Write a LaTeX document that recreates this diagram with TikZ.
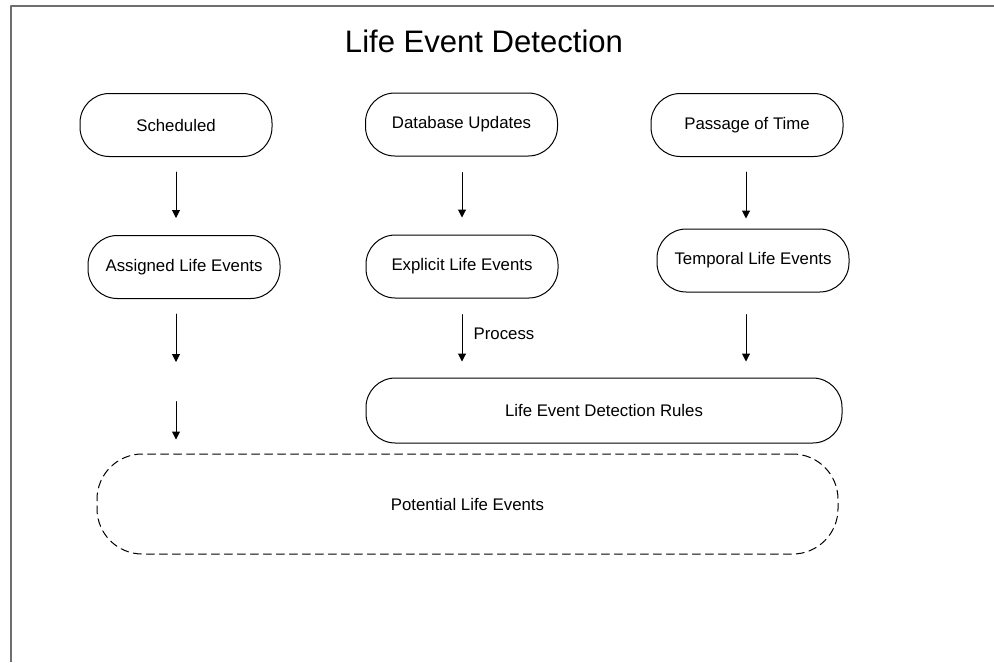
\documentclass[tikz,border=0pt]{standalone}
\usepackage{fontspec}
\setmainfont{Liberation Sans}
\usetikzlibrary{arrows.meta,calc}
\definecolor{framegray}{RGB}{110,110,110}
\begin{document}
\begin{tikzpicture}[x=0.75pt, y=-0.75pt, font=\fontsize{12.6}{15}\selectfont, line join=round, line cap=round,
  >={Triangle[length=6pt,width=6pt]},
  box/.style={draw, line width=0.75pt, rounded corners=22pt, minimum width=144pt, minimum height=47.25pt, inner sep=0pt},
  arr/.style={->, line width=0.75pt}]
\def\gap{11.25pt}
\useasboundingbox (0,0) rectangle (994,662);
\draw[framegray, line width=1.5pt, line cap=butt] (994,6) -- (11,6) -- (11,662);
\node[font=\fontsize{23.3}{28}\selectfont, anchor=base] (title) at (484,52) {Life Event Detection};
% sources
\node[box] (sched) at (176,125) {Scheduled};
\node[box] (dbupd) at (461.5,124.5) {Database Updates};
\node[box] (ptime) at (747,125) {Passage of Time};
% life events
\node[box] (assign) at (184,267) {Assigned Life Events};
\node[box] (explicit) at (462,266.5) {Explicit Life Events};
\node[box] (temporal) at (753,260.5) {Temporal Life Events};
\node[box, minimum width=357pt, minimum height=48.75pt] (rules) at (604,410.5) {Life Event Detection Rules};
\node[box, dashed, dash pattern=on 6pt off 3.75pt, rounded corners=34pt, minimum width=555.75pt, minimum height=75pt] (potential) at (467.5,504) {Potential Life Events};
% arrows
\draw[arr] ($(sched.south)+(0pt,-\gap)$) -- ($(sched.south |- assign.north)+(0pt,12.75pt)$);
\draw[arr] ($(sched.south |- assign.south)+(0pt,-\gap)$) -- ++(0,48);
\draw[arr] ($(sched.south |- potential.north)+(0pt,39pt)$) -- ($(sched.south |- potential.north)+(0pt,10.5pt)$);
\draw[arr] ($(explicit.north |- dbupd.south)+(0pt,-12pt)$) -- ($(explicit.north)+(0pt,12.75pt)$);
\draw[arr] ($(explicit.south)+(0pt,-12pt)$) -- ($(explicit.south |- rules.north)+(0pt,12pt)$)
  node[pos=0.4, right=5pt] {Process};
\draw[arr] ($(ptime.south)+(-1,0)+(0pt,-\gap)$) -- ($(ptime.south |- temporal.north)+(-1,0)+(0pt,7.5pt)$);
\draw[arr] ($(ptime.south |- temporal.south)+(-1,0)+(0pt,-16.5pt)$) -- ($(ptime.south |- rules.north)+(-1,0)+(0pt,12pt)$);
\end{tikzpicture}
\end{document}
